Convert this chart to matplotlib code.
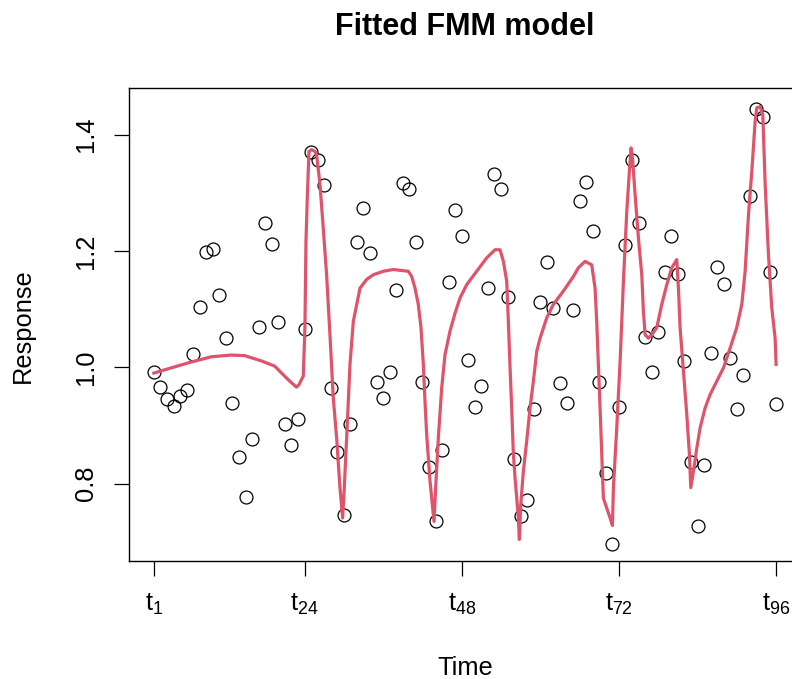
import matplotlib
matplotlib.use("Agg")
import matplotlib.pyplot as plt

plt.rcParams['font.family'] = ['Liberation Sans', 'DejaVu Sans']
plt.rcParams['mathtext.fontset'] = 'custom'
plt.rcParams['mathtext.rm'] = 'Liberation Sans'
plt.rcParams['mathtext.it'] = 'Liberation Sans:italic'

# observed response at t_1 ... t_96
response = [
    0.991, 0.966, 0.945, 0.934, 0.950, 0.961, 1.022, 1.104, 1.198, 1.204,
    1.124, 1.050, 0.939, 0.845, 0.777, 0.876, 1.069, 1.248, 1.212, 1.077,
    0.903, 0.867, 0.911, 1.066, 1.370, 1.356, 1.314, 0.964, 0.854, 0.746,
    0.903, 1.215, 1.273, 1.196, 0.975, 0.947, 0.991, 1.132, 1.317, 1.306,
    1.215, 0.975, 0.829, 0.735, 0.857, 1.146, 1.270, 1.226, 1.013, 0.931,
    0.967, 1.137, 1.333, 1.306, 1.121, 0.843, 0.744, 0.771, 0.928, 1.113,
    1.181, 1.102, 0.973, 0.939, 1.099, 1.286, 1.319, 1.234, 0.975, 0.818,
    0.697, 0.931, 1.210, 1.356, 1.248, 1.052, 0.991, 1.061, 1.163, 1.226,
    1.160, 1.011, 0.837, 0.727, 0.832, 1.025, 1.173, 1.143, 1.016, 0.928,
    0.986, 1.295, 1.444, 1.430, 1.163, 0.936,
]
time_idx = list(range(1, len(response) + 1))

# fitted FMM curve (time index, value)
fit_t = [
    1.00, 3.65, 6.70, 9.76, 12.81, 14.85, 17.39, 19.43, 21.47, 22.74,
    22.79, 23.15, 23.81, 24.06, 24.22, 24.42, 24.68, 25.08, 25.59, 25.85,
    26.36, 26.86, 27.37, 27.88, 28.39, 28.90, 29.41, 29.82, 30.07, 30.43,
    30.94, 31.45, 32.47, 33.48, 34.50, 36.03, 37.56, 39.08, 39.85, 40.36,
    40.87, 41.37, 41.78, 42.14, 42.39, 42.65, 43.16, 43.77, 44.02, 44.43,
    44.94, 45.45, 46.21, 46.98, 47.74, 48.76, 50.29, 51.81, 53.09, 53.85,
    54.36, 54.87, 55.12, 55.38, 55.63, 55.89, 56.14, 56.40, 56.65, 56.80,
    57.01, 57.41, 57.92, 58.43, 58.94, 59.45, 59.96, 60.98, 61.99, 63.52,
    65.05, 65.81, 66.83, 67.85, 68.36, 68.61, 68.87, 69.12, 69.38, 69.63,
    70.14, 70.65, 71.01, 71.16, 71.67, 72.18, 72.69, 73.20, 73.60, 73.86,
    74.11, 74.47, 74.98, 75.49, 75.74, 76.00, 76.50, 77.01, 77.78, 78.54,
    79.31, 80.07, 80.83, 81.09, 81.34, 81.85, 82.36, 82.77, 82.97, 83.38,
    83.89, 84.40, 85.16, 85.92, 86.94, 87.96, 88.98, 89.98, 90.76, 91.27,
    91.78, 92.29, 92.80, 93.05, 93.56, 93.97, 94.33, 94.83, 95.34, 95.85,
    96.00,
]
fit_y = [
    0.990, 0.999, 1.009, 1.018, 1.021, 1.020, 1.011, 1.002, 0.979, 0.966,
    0.966, 0.970, 0.985, 1.068, 1.216, 1.291, 1.371, 1.374, 1.371, 1.365,
    1.314, 1.239, 1.159, 1.056, 0.947, 0.879, 0.793, 0.741, 0.793, 0.879,
    1.005, 1.079, 1.136, 1.151, 1.159, 1.165, 1.168, 1.166, 1.165, 1.156,
    1.136, 1.108, 1.068, 1.005, 0.942, 0.884, 0.804, 0.735, 0.793, 0.879,
    0.964, 1.022, 1.062, 1.093, 1.119, 1.142, 1.165, 1.188, 1.202, 1.202,
    1.182, 1.148, 1.079, 0.999, 0.930, 0.850, 0.810, 0.775, 0.741, 0.704,
    0.764, 0.821, 0.873, 0.930, 0.976, 1.027, 1.050, 1.085, 1.108, 1.131,
    1.156, 1.171, 1.182, 1.176, 1.136, 1.079, 1.005, 0.930, 0.850, 0.775,
    0.758, 0.741, 0.728, 0.793, 0.896, 1.010, 1.148, 1.268, 1.337, 1.377,
    1.354, 1.297, 1.222, 1.159, 1.096, 1.056, 1.050, 1.056, 1.068, 1.108,
    1.142, 1.171, 1.185, 1.136, 1.068, 0.993, 0.919, 0.850, 0.793, 0.821,
    0.861, 0.896, 0.930, 0.953, 0.976, 0.999, 1.033, 1.068, 1.108, 1.165,
    1.262, 1.337, 1.423, 1.446, 1.448, 1.434, 1.314, 1.194, 1.102, 1.050,
    1.005,
]

tick_pos = [1, 24, 48, 72, 96]
tick_lab = [r'$\mathregular{t_{%d}}$' % k for k in tick_pos]

fig = plt.figure(figsize=(7.92, 6.79), dpi=100)
ax = fig.add_axes([129 / 792, 1 - 561 / 679, 672 / 792, 473 / 679])

ax.plot(time_idx, response, linestyle='none', marker='o', markersize=9.3,
        markerfacecolor='none', markeredgecolor='black', markeredgewidth=0.9)
ax.plot(fit_t, fit_y, color='#DF536B', linewidth=2.3)

ax.set_xlim(-2.8, 99.8)
ax.set_ylim(0.667, 1.480)
ax.set_xticks(tick_pos)
ax.set_xticklabels(tick_lab)
ax.set_yticks([0.8, 1.0, 1.2, 1.4])
ax.set_yticklabels(['0.8', '1.0', '1.2', '1.4'], rotation=90, va='center')

ax.tick_params(direction='out', length=10.5, width=0.9, labelsize=18.4,
               color='black')
ax.tick_params(axis='x', pad=12)
ax.tick_params(axis='y', pad=12)
for sp in ax.spines.values():
    sp.set_linewidth(1.0)

fig.text(465 / 792, 1 - 27 / 679, 'Fitted FMM model', ha='center', va='center',
         fontsize=22, fontweight='bold')
fig.text(465 / 792, 1 - 668 / 679, 'Time', ha='center', va='center', fontsize=18.4)
fig.text(23 / 792, 1 - 326 / 679, 'Response', ha='center', va='center',
         rotation=90, fontsize=18.4)

fig.savefig('out.png', dpi=100)
